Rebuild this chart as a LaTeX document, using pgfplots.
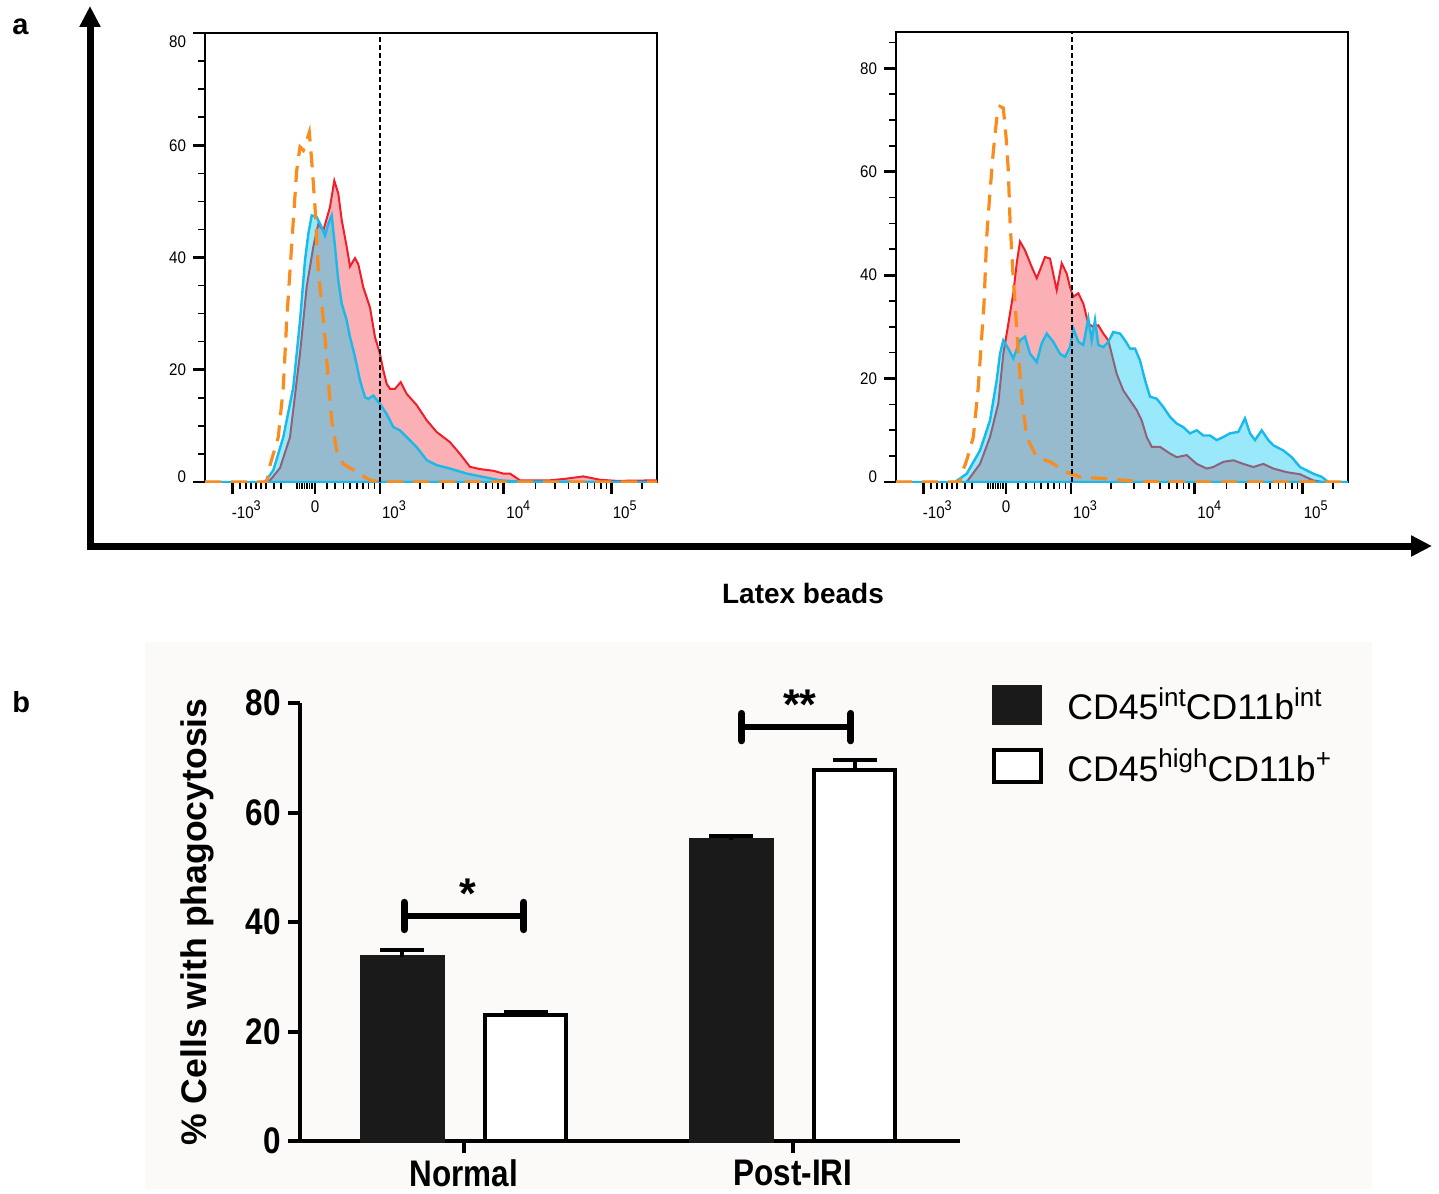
\documentclass[border=0pt]{standalone}
\usepackage{fontspec}
\setmainfont{Liberation Sans}
\newfontfamily\hfont[FakeStretch=0.9]{Liberation Sans}
\newfontfamily\bfont[FakeStretch=0.85]{Liberation Sans}
\usepackage{pgfplots}
\pgfplotsset{compat=1.18}
\usetikzlibrary{arrows.meta}

\definecolor{hred}{RGB}{240,30,40}
\definecolor{hcyan}{RGB}{0,200,245}
\definecolor{hcyanline}{RGB}{25,185,235}
\definecolor{horange}{RGB}{250,140,30}
\definecolor{bgpanel}{RGB}{251,250,248}
\definecolor{barblack}{RGB}{26,26,26}

\newcommand\hsup[1]{\raisebox{3.8pt}{\fontsize{7}{7}\selectfont #1}}
\newcommand\lsup[1]{\raisebox{6.8pt}{\fontsize{13}{13}\selectfont #1}}

\pgfplotsset{
  hist/.style={
    scale only axis, width=226pt, xmin=0, xmax=452, ymin=0,
    axis line style={line width=0.9pt},
    tick align=outside, tick pos=left,
    xtick={27.3,110,175,298.3,406.7},
    xticklabels={\hspace*{14pt}-10\hsup{3},0,\hspace*{14pt}10\hsup{3},\hspace*{15pt}10\hsup{4},\hspace*{13pt}10\hsup{5}},
    minor xtick={35,40.7,46,51,56,61,68.7,76,92,94.5,97,99.5,102,104.5,107,
      121.7,130,138.3,145,151.7,157.7,163.3,169.3,
      215,238,253,264,273,281,287.5,293,
      330.6,349.7,363.3,373.8,382.4,389.6,395.9,401.4,436.7},
    ytick={0,20,40,60,80}, minor ytick={5,10,...,85},
    major tick length=6pt, minor tick length=3.5pt,
    major tick style={line width=1.4pt,black},
    minor tick style={line width=0.8pt,black},
    tick label style={font=\hfont\fontsize{8.4}{9}\selectfont},
  },
  redfill/.style={draw=hred, line width=1pt, fill=hred, fill opacity=0.35},
  cyanfill/.style={draw=hcyanline, line width=1.2pt, fill=hcyan, fill opacity=0.4},
  isotype/.style={draw=horange, line width=1.6pt, dash pattern=on 8pt off 5pt},
  errs/.style={error bars/.cd, y dir=plus, y explicit,
    error bar style={line width=2pt, black},
    error mark options={rotate=90, line width=2pt, mark size=11pt, black}},
}

\begin{document}
\begin{tikzpicture}
\begin{scope}[x=0.5pt,y=-0.5pt]
  \path[use as bounding box] (0,0) rectangle (1439,1189);
  \fill[bgpanel] (145,642) rectangle (1372,1189);
\end{scope}

% ---- panel a, left histogram (normal)
\begin{axis}[hist, at={(102.5pt,-241pt)}, anchor=south west,
  height=224.5pt, ymax=80,
  yticklabels={\raisebox{0pt}[0pt][0pt]{0},20,40,60,\raisebox{-7.5pt}[0pt][0pt]{80}}]
\addplot[redfill] coordinates {
(0,0) (58,0) (65,0.3) (75,2.5) (85,8.0) (95,22.9) (101.7,34.8) (108.3,41.9)
(113.3,46.0) (118.3,44.8) (125,49.0) (129.3,53.7) (133.3,51.4) (136.7,46.7)
(141.7,41.9) (145,38.4) (150,39.9) (153.3,38.8) (158.3,34.7) (165,31.1)
(170,25.8) (175,22.8) (178.3,19.9) (181.7,17.5) (185,16.6) (190,16.6)
(195.7,17.8) (201.7,15.7) (211.7,13.7) (221.7,11.0) (231.7,8.9) (245,7.1)
(255,5.0) (265,2.7) (275,2.3) (288.3,2.0) (298.3,1.5) (305,1.5) (315,0.3)
(345,0.3) (361.7,0.6) (378.3,1.0) (395,0.4) (411.7,0.2) (452,0.3)} \closedcycle;
\addplot[cyanfill] coordinates {
(0,0) (60,0) (68.3,2.1) (78.3,8.0) (88.3,16.9) (95,28.7) (100,39.5)
(103.3,44.2) (106.7,47.5) (111.7,47.2) (116.7,45.4) (120,43.9) (123.3,46.0)
(126.7,47.5) (130,41.9) (133.3,35.9) (136.7,31.8) (141.7,28.8) (145,25.8)
(150,22.3) (155,18.1) (160,15.1) (163.3,14.8) (168.3,15.4) (175,13.9)
(181.7,12.1) (188.3,9.8) (195,9.2) (201.7,8.0) (211.7,6.2) (221.7,3.9)
(231.7,3.0) (245,2.4) (261.7,1.5) (278.3,0.9) (295,0.3) (311.7,0.1)
(428.3,0) (452,0)} \closedcycle;
\addplot[isotype] coordinates {
(0,0) (61.7,0) (65,3.0) (70,6.0) (73.3,8.0) (78.3,16.9) (81.7,28.8) (85,37.7)
(88.3,46.6) (91.7,55.5) (95,59.7) (98.3,59.1) (101.7,60.8) (104.3,62.3)
(106.7,57.3) (110,49.0) (113.3,37.7) (116.7,31.8) (120,25.8) (123.3,18.1)
(126.7,10.9) (131.7,5.6) (138.3,3.2) (151.7,1.8) (165,0.3) (178.3,0) (452,0)};
\addplot[black, line width=0.6pt, dash pattern=on 2.5pt off 1.5pt]
  coordinates {(175,0) (175,80)};
\end{axis}

% ---- panel a, right histogram (post-IRI)
\begin{axis}[hist, at={(448pt,-241pt)}, anchor=south west,
  height=225pt, ymax=87,
  yticklabels={\raisebox{0pt}[0pt][0pt]{0},20,40,60,80}]
\addplot[redfill] coordinates {
(0,0) (70.7,0) (84,3.5) (94,8.7) (102.3,15.2) (107.3,24.8) (110.7,28.7)
(114,32.6) (117.3,36.5) (120.7,42.3) (124,46.5) (129,44.8) (135.7,41.6)
(140.7,39.4) (144,41.0) (149,43.5) (154,43.2) (160.7,37.1) (165.7,42.3)
(170.7,40.3) (174,37.7) (177.3,35.8) (182.3,36.5) (187.3,34.5) (192.3,30.6)
(197.3,30.0) (202.3,30.3) (207.3,28.7) (212.3,27.4) (215.7,24.8) (220.7,20.9)
(227.3,17.7) (234,15.8) (240.7,13.9) (245.7,11.9) (250.7,8.7) (255.7,6.8)
(264,6.8) (274,5.5) (280.7,4.8) (290.7,5.2) (300.7,3.5) (310.7,2.6)
(317.3,2.9) (327.3,3.9) (337.3,4.2) (347.3,3.5) (357.3,2.9) (367.3,3.5)
(377.3,2.6) (390.7,1.9) (404,1.5) (417.3,0.3) (427.3,0) (452,0)} \closedcycle;
\addplot[cyanfill] coordinates {
(0,0) (59,0) (70.7,1.6) (84,6.1) (94,11.9) (100.7,19.7) (104,24.8)
(107.3,27.4) (112.3,25.8) (117.3,23.9) (124,27.4) (129,28.1) (134,24.8)
(140.7,23.2) (145.7,26.8) (150.7,28.7) (157.3,27.1) (164,24.8) (169,24.2)
(174,26.1) (177.3,29.7) (182.3,27.1) (187.3,26.5) (192.3,31.6) (195.7,27.4)
(199,31.3) (202.3,26.5) (207.3,26.1) (212.3,27.1) (217.3,29.0) (224,28.7)
(229,27.4) (234,25.8) (239,25.8) (244,23.5) (249,19.7) (254,16.5)
(260.7,16.1) (267.3,14.5) (274,12.6) (280.7,11.3) (287.3,10.6) (294,9.4)
(300.7,10.0) (307.3,9.0) (314,9.0) (320.7,8.1) (327.3,8.7) (334,9.4)
(342.3,9.7) (349,12.3) (354,9.4) (359,8.1) (365.7,10.0) (372.3,8.1)
(377.3,7.1) (387.3,6.1) (395.7,4.8) (404,2.9) (417.3,1.6) (425.7,1.0)
(432.3,0) (452,0)} \closedcycle;
\addplot[isotype] coordinates {
(0,0) (64,0) (65.7,1.6) (70.7,4.2) (77.3,8.7) (82.3,18.4) (85.7,28.1)
(88,34.5) (90.7,47.4) (94,56.1) (97.3,63.9) (100.7,70.3) (104,72.6)
(107.3,72.3) (110,66.8) (112.3,60.3) (114,50.6) (116.7,41.0) (119,34.5)
(122.3,24.8) (125.7,16.5) (130.7,8.7) (140.7,4.8) (154,3.9) (170.7,1.9)
(184,1.0) (210.7,0.6) (244,0.1) (277.3,0) (452,0)};
\addplot[black, line width=0.6pt, dash pattern=on 2.5pt off 1.5pt]
  coordinates {(176,0) (176,87)};
\end{axis}

% ---- panel b, bar chart (groups at 0 and 1, bars at +-0.187)
\begin{axis}[at={(150pt,-570.5pt)}, anchor=south west,
  scale only axis, width=330pt, height=219pt,
  xmin=-0.4985, xmax=1.5076, ymin=0, ymax=80, clip=false,
  axis x line*=bottom, axis y line*=left,
  axis line style={-, line width=2pt},
  tick align=outside, major tick length=6pt,
  major tick style={line width=2pt, black},
  xtick={0,1}, xticklabels={Normal,Post-IRI},
  ytick={0,20,40,60,80},
  tick label style={font=\bfont\bfseries\fontsize{18.5}{20}\selectfont},
  /pgf/number format/assume math mode=true,
  ylabel={\% Cells with phagocytosis},
  ylabel style={font=\bfseries\fontsize{17.8}{20}\selectfont,
    at={(rel axis cs:-0.156,0.5)}, anchor=center},
  legend style={at={(rel axis cs:1.0485,1.046)}, anchor=north west,
    draw=none, fill=none, inner sep=0pt, row sep=9pt, column sep=10pt,
    font=\fontsize{17.8}{19}\selectfont},
  legend cell align=left,
]
\addplot[ybar, bar width=40.5pt, bar shift=0pt, fill=barblack,
  draw=barblack, line width=2pt, forget plot, errs]
  coordinates {(-0.187,33.55) +- (0,1.3) (0.813,55.0) +- (0,0.8)};
\addplot[ybar, bar width=40.5pt, bar shift=0pt, fill=white,
  draw=black, line width=2pt, forget plot, errs]
  coordinates {(0.187,23.0) +- (0,0.6) (1.188,67.7) +- (0,1.9)};
\addlegendimage{legend image code/.code={
  \draw[fill=barblack, draw=barblack, line width=1pt] (0.5pt,-9.5pt) rectangle (24.5pt,9.5pt);}}
\addlegendentry{CD45\lsup{int}CD11b\lsup{int}}
\addlegendimage{legend image code/.code={
  \draw[fill=white, draw=black, line width=2pt] (1pt,-8pt) rectangle (24.5pt,8pt);}}
\addlegendentry{CD45\lsup{high}CD11b\lsup{+}}
% significance brackets
\draw[line width=3pt, line cap=round] (axis cs:-0.182,41.15) -- (axis cs:0.182,41.15);
\draw[line width=3.5pt, line cap=round] (axis cs:-0.182,38.6) -- (axis cs:-0.182,43.6);
\draw[line width=3.5pt, line cap=round] (axis cs:0.182,38.6) -- (axis cs:0.182,43.6);
\node[anchor=north, inner sep=0pt, font=\bfseries\fontsize{21.5}{22}\selectfont]
  at (axis cs:0.011,48.0) {*};
\draw[line width=3pt, line cap=round] (axis cs:0.844,75.56) -- (axis cs:1.176,75.56);
\draw[line width=3.5pt, line cap=round] (axis cs:0.844,73.1) -- (axis cs:0.844,78.1);
\draw[line width=3.5pt, line cap=round] (axis cs:1.176,73.1) -- (axis cs:1.176,78.1);
\node[anchor=north, inner sep=0pt, font=\bfseries\fontsize{21.5}{22}\selectfont]
  at (axis cs:1.021,82.4) {**};
\end{axis}

\begin{scope}[x=0.5pt,y=-0.5pt]
  \draw[line width=3.5pt, -{Triangle[length=10.5pt,width=10pt]}] (90,549) -- (90,6);
  \draw[line width=3.5pt, -{Triangle[length=10.5pt,width=10pt]}] (87,546) -- (1432,546);
  \node[font=\bfseries\fontsize{14}{14}\selectfont] at (803,593) {Latex beads};
  \node[anchor=base west, inner sep=0pt, font=\bfseries\fontsize{14.5}{15}\selectfont] at (12,35) {a};
  \node[anchor=base west, inner sep=0pt, font=\bfseries\fontsize{14.5}{15}\selectfont] at (12,712) {b};
\end{scope}
\end{tikzpicture}
\end{document}
